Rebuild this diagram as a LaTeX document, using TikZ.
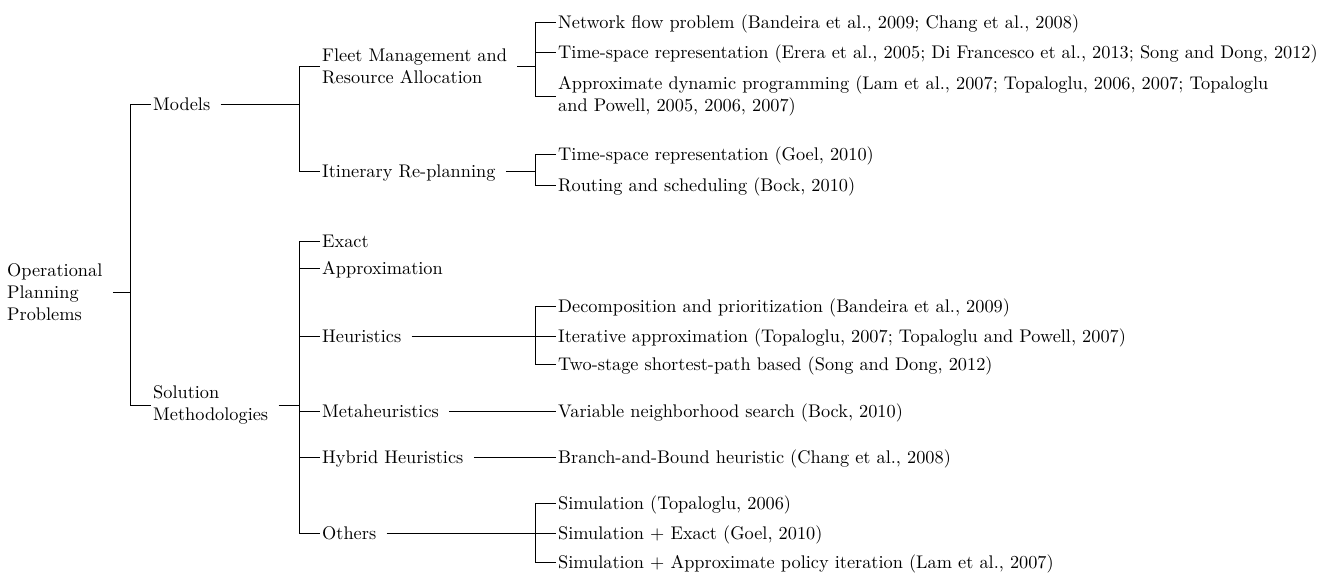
\documentclass[tikz,border=0pt]{standalone}
\begin{document}
\begin{tikzpicture}[x=0.5464pt, y=-0.5464pt, line width=0.4pt,
  item/.style={anchor=west, inner sep=1pt, text height=6.9pt, text depth=0pt},
  block/.style={anchor=west, inner sep=1pt, align=left}]
\useasboundingbox (0,0) rectangle (1336,577);
\node[block] (root) at (5,292.5) {Operational\\Planning\\Problems};
\node[item] (models) at (151,104) {Models};
\node[block] (sol) at (151,405) {Solution\\Methodologies};
\node[block] (fleet) at (320,66) {Fleet Management and\\Resource Allocation};
\node[item] (itin) at (320,171) {Itinerary Re-planning};
\node[item] (exact) at (320,241) {Exact};
\node[item] (approx) at (320,268) {Approximation};
\node[item] (heur) at (320,336) {Heuristics};
\node[item] (meta) at (320,411) {Metaheuristics};
\node[item] (hybrid) at (320,457) {Hybrid Heuristics};
\node[item] (others) at (320,533) {Others};
\node[item] (net) at (556,22) {Network flow problem (Bandeira et al., 2009; Chang et al., 2008)};
\node[item] (tsa) at (556,52) {Time-space representation (Erera et al., 2005; Di Francesco et al., 2013; Song and Dong, 2012)};
\node[block] (adp) at (556,96) {Approximate dynamic programming (Lam et al., 2007; Topaloglu, 2006, 2007; Topaloglu\\and Powell, 2005, 2006, 2007)};
\node[item] (tsb) at (556,154) {Time-space representation (Goel, 2010)};
\node[item] (route) at (556,185) {Routing and scheduling (Bock, 2010)};
\node[item] (dec) at (556,306) {Decomposition and prioritization (Bandeira et al., 2009)};
\node[item] (iter) at (556,336) {Iterative approximation (Topaloglu, 2007; Topaloglu and Powell, 2007)};
\node[item] (two) at (556,364) {Two-stage shortest-path based (Song and Dong, 2012)};
\node[item] (vns) at (556,411) {Variable neighborhood search (Bock, 2010)};
\node[item] (bnb) at (556,457) {Branch-and-Bound heuristic (Chang et al., 2008)};
\node[item] (sima) at (556,503) {Simulation (Topaloglu, 2006)};
\node[item] (simb) at (556,533) {Simulation $+$ Exact (Goel, 2010)};
\node[item] (simc) at (556,562) {Simulation $+$ Approximate policy iteration (Lam et al., 2007)};
\coordinate (froot) at (130,292.5);
\coordinate (fmodels) at (299,104);
\coordinate (fsol) at (299,405);
\coordinate (ffleet) at (535,66);
\coordinate (fitin) at (535,171);
\coordinate (fheur) at (535,336);
\coordinate (fothers) at (535,533);
\draw ([xshift=4.5pt]root.east) -- (froot) (froot) |- (models) (froot) |- (sol);
\draw ([xshift=4.5pt]models.east) -- (fmodels) (fmodels) |- (fleet) (fmodels) |- (itin);
\draw ([xshift=4.5pt]sol.east) -- (fsol);
\foreach \n in {exact,approx,heur,meta,hybrid,others}
  \draw (fsol) |- (\n);
\draw ([xshift=4.5pt]fleet.east) -- (ffleet);
\foreach \n in {net,tsa,adp}
  \draw (ffleet) |- (\n);
\draw ([xshift=4.5pt]itin.east) -- (fitin);
\foreach \n in {tsb,route}
  \draw (fitin) |- (\n);
\draw ([xshift=4.5pt]heur.east) -- (fheur);
\foreach \n in {dec,iter,two}
  \draw (fheur) |- (\n);
\draw ([xshift=4.5pt]meta.east) -- (vns);
\draw ([xshift=4.5pt]hybrid.east) -- (bnb);
\draw ([xshift=4.5pt]others.east) -- (fothers);
\foreach \n in {sima,simb,simc}
  \draw (fothers) |- (\n);
\end{tikzpicture}
\end{document}
